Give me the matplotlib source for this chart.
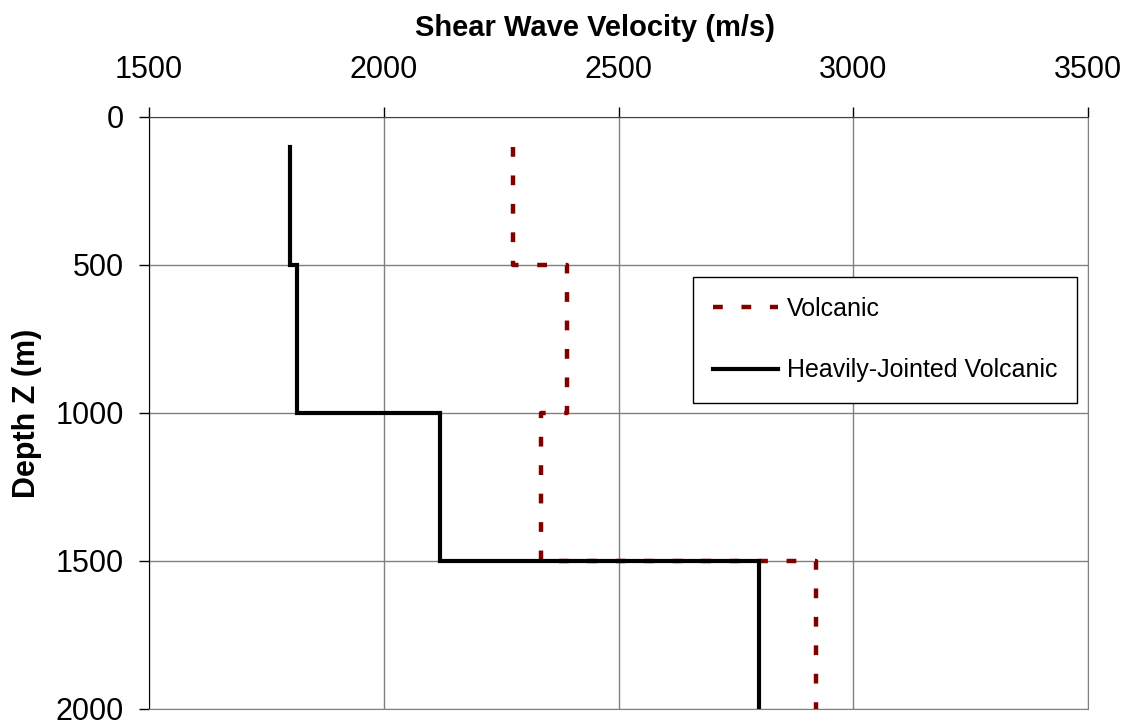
import numpy as np
import matplotlib
matplotlib.use('Agg')
import matplotlib.pyplot as plt

plt.rcParams['font.family'] = ['Liberation Sans', 'DejaVu Sans']

# layer boundaries (m)
depth_top = [100, 500, 1000, 1500]
depth_bottom = [500, 1000, 1500, 2000]

# shear wave velocity per layer (m/s)
vs_volcanic = [2275, 2390, 2335, 2920]
vs_jointed = [1800, 1815, 2120, 2800]

x_ticks = [1500, 2000, 2500, 3000, 3500]
y_ticks = [0, 500, 1000, 1500, 2000]


def step_profile(vs, top, bottom):
    # vertical segment for each layer, joined by horizontal steps
    x = np.repeat(vs, 2)
    y = np.column_stack([top, bottom]).ravel()
    return x, y


fig = plt.figure(figsize=(11.33, 7.25), dpi=100)
ax = fig.add_axes([149 / 1133, 1 - 709 / 725, 939 / 1133, 592 / 725])

xv, yv = step_profile(vs_volcanic, depth_top, depth_bottom)
xj, yj = step_profile(vs_jointed, depth_top, depth_bottom)

ax.plot(xv, yv, color='#800000', lw=3.2, ls=(0, (2.2, 4.2)), label='Volcanic', zorder=3)
ax.plot(xj, yj, color='black', lw=3.0, label='Heavily-Jointed Volcanic', zorder=4,
        solid_joinstyle='miter')

ax.set_xlim(1500, 3500)
ax.set_ylim(2000, 0)
ax.set_xticks(x_ticks)
ax.set_yticks(y_ticks)
ax.xaxis.tick_top()
ax.tick_params(axis='both', direction='out', length=7, width=1, labelsize=22, color='black')
ax.tick_params(axis='x', pad=16)
ax.tick_params(axis='y', pad=11)
ax.grid(True, color='#808080', lw=1)
ax.set_axisbelow(True)

for side in ['right', 'bottom']:
    ax.spines[side].set_color('#808080')
ax.spines['left'].set_color('black')
ax.spines['top'].set_color('#404040')

fig.text(595 / 1133, 1 - 28 / 725, 'Shear Wave Velocity (m/s)', ha='center', va='center',
         fontsize=21, fontweight='bold')
fig.text(27 / 1133, 1 - 413 / 725, 'Depth Z (m)', ha='center', va='center',
         fontsize=22, fontweight='bold', rotation=90)

leg = ax.legend(loc='upper left', bbox_to_anchor=((693 - 149) / 939, 1 - (277 - 117) / 592),
                borderaxespad=0, fontsize=18, frameon=True, fancybox=False, framealpha=1,
                edgecolor='black', handlelength=2.6, handletextpad=0.35, labelspacing=1.5,
                borderpad=0.8)
leg.get_frame().set_linewidth(1.0)

fig.savefig('out.png', dpi=100)
